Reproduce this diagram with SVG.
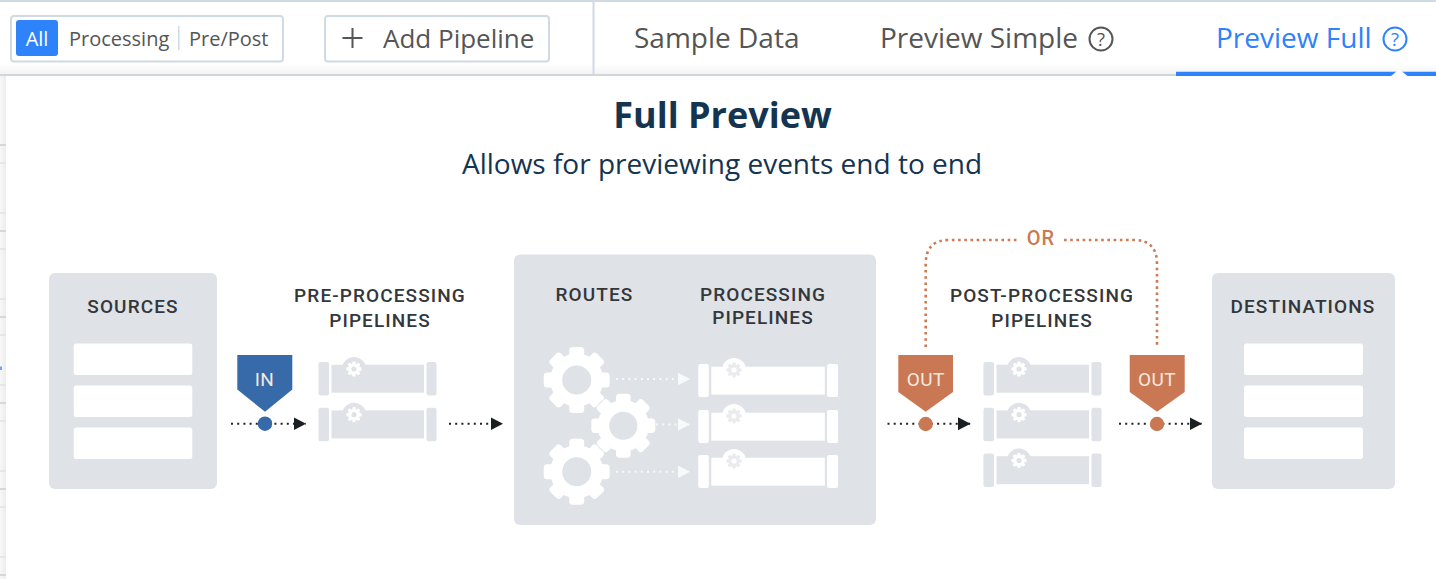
<svg xmlns="http://www.w3.org/2000/svg" width="1436" height="579" viewBox="0 0 1436 579">
<style>
.ui{font-family:"Open Sans","Noto Sans",sans-serif;fill:#555}
.lbl{font-family:Roboto,"Liberation Sans",sans-serif;font-weight:500;font-size:19px;letter-spacing:1.100px;fill:#33373b;text-anchor:middle}
.tag{font-family:Roboto,"Liberation Sans",sans-serif;font-weight:400;font-size:19px;letter-spacing:.4px;fill:#f4e9e2;text-anchor:middle}
.box{fill:#dfe2e7}
.wh{fill:#fff}
.dk{fill:none;stroke:#222;stroke-width:2;stroke-dasharray:2 4.200}
.wd{fill:none;stroke:#fff;stroke-width:2;stroke-dasharray:2 4.200;opacity:.8}
.or{fill:none;stroke:#cc7a52;stroke-width:2.600;stroke-dasharray:2.600 3.600}
.bd{fill:#fff;stroke:#d0dae3;stroke-width:2}
</style>
<defs>
<marker id="ah" markerWidth="13" markerHeight="14" refX="12.500" refY="7" orient="auto" markerUnits="userSpaceOnUse"><path d="M0 0.500L12.500 7L0 13.500z" fill="#1c1f22"/></marker>
<marker id="aw" markerWidth="13" markerHeight="14" refX="12.500" refY="7" orient="auto" markerUnits="userSpaceOnUse"><path d="M0 0.500L12.500 7L0 13.500z" fill="#fff"/></marker>
<g id="teeth"><rect x="-7.500" y="-33" width="15" height="66" rx="3.500"/><rect x="-33" y="-7.500" width="66" height="15" rx="3.500"/><rect x="-7.500" y="-33" width="15" height="66" rx="3.500" transform="rotate(45)"/><rect x="-7.500" y="-33" width="15" height="66" rx="3.500" transform="rotate(-45)"/></g>
<g id="gear"><use href="#teeth" fill="#fff"/><circle r="26.500" fill="#fff"/><circle r="14.500" fill="#dfe2e7"/></g>
<g id="tiny"><rect x="-1.700" y="-7.600" width="3.400" height="15.200" rx="1"/><rect x="-7.600" y="-1.700" width="15.200" height="3.400" rx="1"/><rect x="-1.700" y="-7.600" width="3.400" height="15.200" rx="1" transform="rotate(45)"/><rect x="-1.700" y="-7.600" width="3.400" height="15.200" rx="1" transform="rotate(-45)"/><circle r="5.800"/></g>
<g id="pipeG"><rect x="0" y="0" width="10.500" height="33.500" rx="2" class="box"/><rect x="13" y="2.700" width="92.500" height="28" class="box"/><circle cx="35.500" cy="7" r="12" class="box"/><rect x="108" y="0" width="10" height="33.500" rx="2" class="box"/><g fill="#fff"><use href="#tiny" x="35.500" y="7"/></g><circle cx="35.500" cy="7" r="2.600" class="box"/></g>
<g id="pipeW"><rect x="0" y="0" width="10.500" height="33" rx="2" class="wh"/><rect x="13" y="2.700" width="113.500" height="28" class="wh"/><circle cx="35.700" cy="6" r="12" class="wh"/><g fill="#e9ebee"><use href="#tiny" x="35.700" y="6"/></g><circle cx="35.700" cy="6" r="2.600" fill="#fff"/><rect x="128.700" y="0" width="11" height="33" rx="2" class="wh"/></g>
<linearGradient id="side" x1="0" x2="1" y1="0" y2="0"><stop offset="0" stop-color="#f8f8f8"/><stop offset="1" stop-color="#ececec"/></linearGradient>
<linearGradient id="top" x1="0" x2="0" y1="0" y2="1"><stop offset="0" stop-color="#fff"/><stop offset="1" stop-color="#f3f3f3"/></linearGradient>
</defs>

<rect width="1436" height="579" fill="#fff"/>
<rect x="0" y="64" width="1436" height="10" fill="url(#top)"/>
<g id="background">
<rect x="0" y="76" width="6" height="503" fill="url(#side)"/>
<path d="M0 163H6M0 213H6M0 249H6M0 299H6M0 335H6M0 385H6M0 421H6M0 471H6M0 507H6M0 557H6" stroke="#dde3e8" stroke-width="1.500"/>
<path d="M0 145H6M0 231H6M0 317H6M0 403H6M0 489H6M0 575H6" stroke="#c9d0d6" stroke-width="1.500"/>
<rect x="0" y="366.500" width="2" height="3.500" fill="#6aa6f5"/>
</g>
<rect x="0" y="0" width="1436" height="2" fill="#d0dae3"/>
<rect x="592.500" y="0" width="2" height="75" fill="#d0dae3"/>
<rect x="0" y="74" width="1436" height="2" fill="#cfd6dd"/>
<path d="M1436 76H9Q6 76 6 79V579H1436z" fill="#fff"/>

<g id="filter-toggle">
<rect class="bd" x="11" y="16" width="272" height="45.500" rx="3"/>
<rect x="16" y="20" width="42" height="36" rx="3" fill="#2e82fa"/>
<text x="37" y="45.500" class="ui" font-size="20" text-anchor="middle" style="fill:#fff">All</text>
<text x="69" y="45.500" class="ui" font-size="20">Processing</text>
<rect x="178" y="26" width="1.500" height="24" fill="#d0dae3"/>
<text x="189" y="45.500" class="ui" font-size="20">Pre/Post</text>
</g>
<g id="add-pipeline">
<rect class="bd" x="325" y="16" width="224" height="45.500" rx="3"/>
<path d="M342.500 38H362.500M352.500 28V48" stroke="#555" stroke-width="2" fill="none"/>
<text x="383" y="48" class="ui" font-size="26">Add Pipeline</text>
</g>
<g id="tabs">
<text x="634" y="48" class="ui" font-size="28">Sample Data</text>
<text x="880" y="48" class="ui" font-size="28">Preview Simple</text>
<circle cx="1101" cy="39" r="11.500" fill="none" stroke="#555" stroke-width="2"/>
<text x="1101" y="45.500" class="ui" font-size="18.500" text-anchor="middle">?</text>
<text x="1216" y="48" class="ui" font-size="28" style="fill:#2e82fa">Preview Full</text>
<circle cx="1395" cy="39" r="11.500" fill="none" stroke="#2e82fa" stroke-width="2"/>
<text x="1395" y="45.500" class="ui" font-size="18.500" text-anchor="middle" style="fill:#2e82fa">?</text>
<path d="M1176 71.700H1436V76H1176z" fill="#2e82fa"/>
<path d="M1390.500 76.500L1399.300 69L1408 76.500z" fill="#fff"/>
</g>

<g id="heading">
<text x="722.500" y="128" font-family="'Open Sans','Noto Sans',sans-serif" font-weight="700" font-size="36" text-anchor="middle" fill="#14344f">Full Preview</text>
<text x="722" y="174" font-family="'Open Sans','Noto Sans',sans-serif" font-size="28" text-anchor="middle" fill="#14344f">Allows for previewing events end to end</text>
</g>

<g id="sources">
<rect class="box" x="49" y="273" width="168" height="216" rx="6"/>
<text class="lbl" x="133" y="313">SOURCES</text>
<rect class="wh" x="73.700" y="343.500" width="118.600" height="31.500" rx="2.500"/>
<rect class="wh" x="73.700" y="385.500" width="118.600" height="31.500" rx="2.500"/>
<rect class="wh" x="73.700" y="427.500" width="118.600" height="31.500" rx="2.500"/>
</g>
<g id="pre-processing">
<text class="lbl" x="380" y="302">PRE-PROCESSING</text>
<text class="lbl" x="380" y="327">PIPELINES</text>
<use href="#pipeG" x="318.500" y="362"/>
<use href="#pipeG" x="318.500" y="407.700"/>
</g>
<g id="in-tag">
<path d="M237.300 355H292.300V389.500L265 411.700L237.300 389.500z" fill="#366aa8"/>
<text class="tag" x="264.500" y="386">IN</text>
</g>
<g id="routes">
<rect class="box" x="514" y="254.500" width="362" height="270.500" rx="6"/>
<text class="lbl" x="594.500" y="300.500">ROUTES</text>
<text class="lbl" x="763" y="300.500">PROCESSING</text>
<text class="lbl" x="763" y="324">PIPELINES</text>
<use href="#gear" x="576.700" y="380"/>
<use href="#gear" x="576.700" y="471.700"/>
<circle cx="623.300" cy="425.700" r="33" fill="#dfe2e7"/>
<use href="#gear" transform="translate(623.300 425.700) scale(.97)"/>
<use href="#pipeW" x="698.300" y="364"/>
<use href="#pipeW" x="698.300" y="410"/>
<use href="#pipeW" x="698.300" y="455"/>
</g>
<g id="post-processing">
<text class="lbl" x="1042" y="302">POST-PROCESSING</text>
<text class="lbl" x="1042" y="327">PIPELINES</text>
<use href="#pipeG" x="983.500" y="362"/>
<use href="#pipeG" x="983.500" y="407.700"/>
<use href="#pipeG" x="983.500" y="453.500"/>
</g>
<g id="out-tag-1">
<path d="M898.300 355H953V392L925.700 411.700L898.300 392z" fill="#c97853"/>
<text class="tag" x="925.700" y="386">OUT</text>
</g>
<g id="out-tag-2">
<path d="M1129.700 355H1184.700V392L1157 411.700L1129.700 392z" fill="#c97853"/>
<text class="tag" x="1157" y="386">OUT</text>
</g>
<g id="destinations">
<rect class="box" x="1212" y="273" width="183" height="216" rx="6"/>
<text class="lbl" x="1303" y="313">DESTINATIONS</text>
<rect class="wh" x="1244" y="343.500" width="119" height="31.500" rx="2.500"/>
<rect class="wh" x="1244" y="385.500" width="119" height="31.500" rx="2.500"/>
<rect class="wh" x="1244" y="427.500" width="119" height="31.500" rx="2.500"/>
</g>

<g id="connectors">
<path class="dk" d="M231 423.700H306" marker-end="url(#ah)"/>
<path class="dk" d="M449 423.700H503" marker-end="url(#ah)"/>
<path class="dk" d="M887.500 423.700H970.500" marker-end="url(#ah)"/>
<path class="dk" d="M1119 423.700H1202" marker-end="url(#ah)"/>
<path class="wd" d="M616 379H690" marker-end="url(#aw)"/>
<path class="wd" d="M656 424.500H690" marker-end="url(#aw)"/>
<path class="wd" d="M616 471.700H690" marker-end="url(#aw)"/>
<path class="or" d="M925.700 347V264Q925.700 240 949 240H1017"/>
<path class="or" d="M1064 240H1134Q1157 240 1157 264V347"/>
<circle cx="265" cy="423.700" r="7.200" fill="#366aa8"/>
<circle cx="925.700" cy="424" r="7.200" fill="#c97853"/>
<circle cx="1157" cy="424" r="7.200" fill="#c97853"/>
<text x="1041" y="245" font-family="Roboto,'Liberation Sans',sans-serif" font-weight="500" font-size="20" letter-spacing="1" text-anchor="middle" fill="#cc7a52">OR</text>
</g>
</svg>
